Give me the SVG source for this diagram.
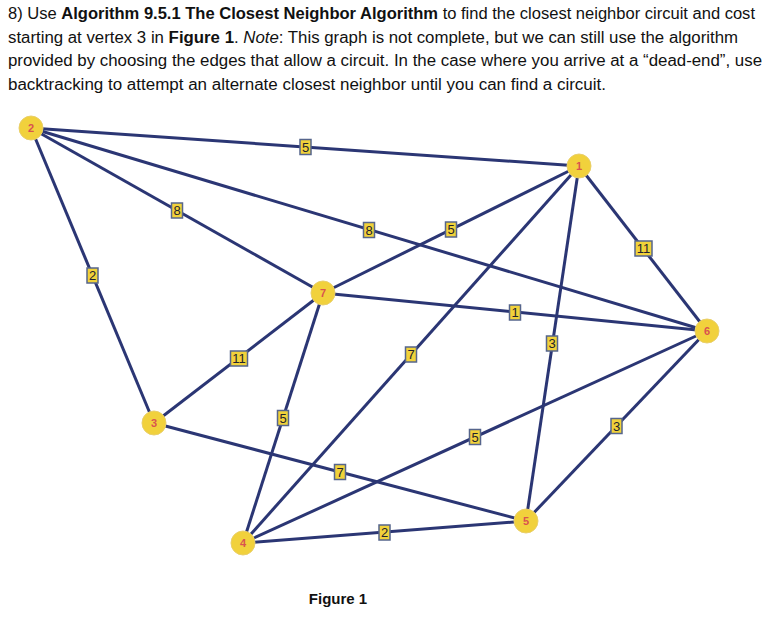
<svg xmlns="http://www.w3.org/2000/svg" width="764" height="634" viewBox="0 0 764 634">
<style>
.t{font-family:"Liberation Sans",Arial,sans-serif;font-size:16px;fill:#111}
.b{font-weight:bold}
.i{font-style:italic}
.e{stroke:#2b3674;stroke-width:3;fill:none}
.n circle{fill:#f1d13c;stroke:#e9cf6a;stroke-width:1}
.n text{font-family:"Liberation Sans",Arial,sans-serif;font-size:11px;font-weight:bold;fill:#d9534f;text-anchor:middle}
.w rect{fill:#f1d23a;stroke:#56658c;stroke-width:1.5}
.w text{font-family:"Liberation Sans",Arial,sans-serif;font-size:13px;fill:#22222e;text-anchor:middle}
</style>
<rect width="764" height="634" fill="#fff"/>
<g id="question">
<text class="t" x="8" y="19" textLength="747" lengthAdjust="spacingAndGlyphs">8) Use <tspan class="b">Algorithm 9.5.1 The Closest Neighbor Algorithm</tspan> to find the closest neighbor circuit and cost</text>
<text class="t" x="8" y="43" textLength="730" lengthAdjust="spacingAndGlyphs">starting at vertex 3 in <tspan class="b">Figure 1</tspan>. <tspan class="i">Note</tspan>: This graph is not complete, but we can still use the algorithm</text>
<text class="t" x="8" y="66" textLength="754" lengthAdjust="spacingAndGlyphs">provided by choosing the edges that allow a circuit. In the case where you arrive at a “dead-end”, use</text>
<text class="t" x="8" y="90" textLength="598" lengthAdjust="spacingAndGlyphs">backtracking to attempt an alternate closest neighbor until you can find a circuit.</text>
</g>
<g id="connectors">
<line class="e" x1="31" y1="128" x2="579" y2="166"/>
<line class="e" x1="31" y1="128" x2="707" y2="331"/>
<line class="e" x1="31" y1="128" x2="323" y2="293"/>
<line class="e" x1="31" y1="128" x2="154" y2="423"/>
<line class="e" x1="579" y1="166" x2="323" y2="293"/>
<line class="e" x1="579" y1="166" x2="243" y2="543"/>
<line class="e" x1="579" y1="166" x2="526" y2="521"/>
<line class="e" x1="579" y1="166" x2="707" y2="331"/>
<line class="e" x1="323" y1="293" x2="707" y2="331"/>
<line class="e" x1="323" y1="293" x2="154" y2="423"/>
<line class="e" x1="323" y1="293" x2="243" y2="543"/>
<line class="e" x1="154" y1="423" x2="526" y2="521"/>
<line class="e" x1="243" y1="543" x2="707" y2="331"/>
<line class="e" x1="243" y1="543" x2="526" y2="521"/>
<line class="e" x1="526" y1="521" x2="707" y2="331"/>
</g>
<g id="weights">
<g class="w"><rect x="300" y="139.5" width="11" height="15"/><text x="305.5" y="151.5">5</text></g>
<g class="w"><rect x="363.5" y="222.5" width="11" height="15"/><text x="369" y="234.5">8</text></g>
<g class="w"><rect x="171.5" y="203" width="11" height="15"/><text x="177" y="215">8</text></g>
<g class="w"><rect x="87" y="268" width="11" height="15"/><text x="92.5" y="280">2</text></g>
<g class="w"><rect x="445.5" y="222" width="11" height="15"/><text x="451" y="234">5</text></g>
<g class="w"><rect x="405.5" y="347" width="11" height="15"/><text x="411" y="359">7</text></g>
<g class="w"><rect x="546.5" y="336" width="11" height="15"/><text x="552" y="348">3</text></g>
<g class="w"><rect x="635" y="241" width="17" height="15"/><text x="643.5" y="253">11</text></g>
<g class="w"><rect x="509.5" y="305" width="11" height="15"/><text x="515" y="317">1</text></g>
<g class="w"><rect x="230.5" y="351" width="17" height="15"/><text x="239" y="363">11</text></g>
<g class="w"><rect x="277.5" y="410.5" width="11" height="15"/><text x="283" y="422.5">5</text></g>
<g class="w"><rect x="334.5" y="464.5" width="11" height="15"/><text x="340" y="476.5">7</text></g>
<g class="w"><rect x="469.5" y="429.5" width="11" height="15"/><text x="475" y="441.5">5</text></g>
<g class="w"><rect x="379" y="525" width="11" height="15"/><text x="384.5" y="537">2</text></g>
<g class="w"><rect x="611" y="418.5" width="11" height="15"/><text x="616.5" y="430.5">3</text></g>
</g>
<g id="node-1" class="n"><circle cx="579" cy="166" r="12"/><text x="579" y="170">1</text></g>
<g id="node-2" class="n"><circle cx="31" cy="128" r="12"/><text x="31" y="132">2</text></g>
<g id="node-3" class="n"><circle cx="154" cy="423" r="12"/><text x="154" y="427">3</text></g>
<g id="node-4" class="n"><circle cx="243" cy="543" r="12"/><text x="243" y="547">4</text></g>
<g id="node-5" class="n"><circle cx="526" cy="521" r="12"/><text x="526" y="525">5</text></g>
<g id="node-6" class="n"><circle cx="707" cy="331" r="12"/><text x="707" y="335">6</text></g>
<g id="node-7" class="n"><circle cx="323" cy="293" r="12"/><text x="323" y="297">7</text></g>
<text id="caption" x="338" y="604" text-anchor="middle" style="font-family:'Liberation Sans',Arial,sans-serif;font-size:15px;font-weight:bold;fill:#111">Figure 1</text>
</svg>
